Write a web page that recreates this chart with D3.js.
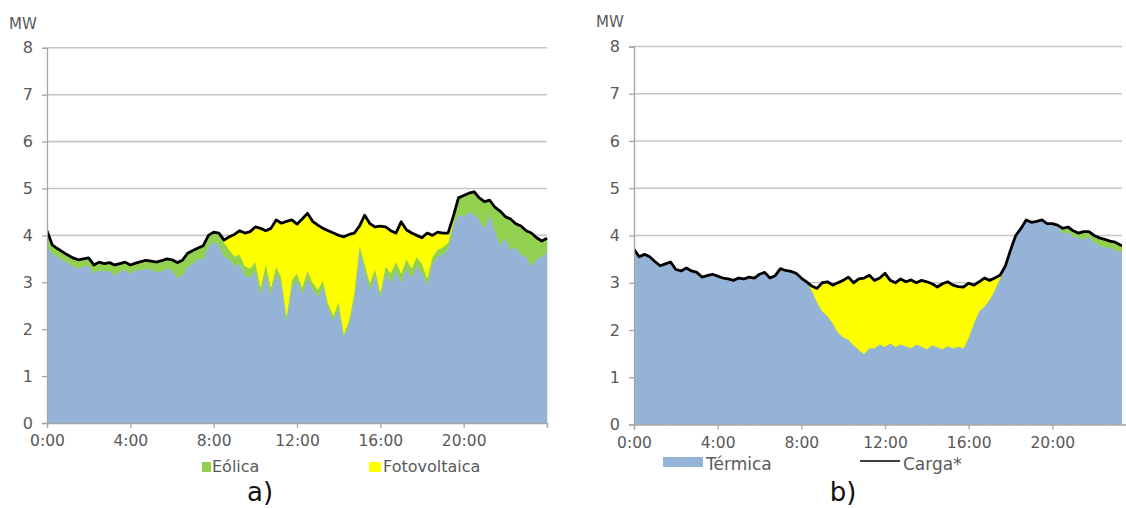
<!DOCTYPE html>
<html>
<head>
<meta charset="utf-8">
<script src="https://cdn.jsdelivr.net/npm/d3@7"></script>
<style>
  html, body { margin: 0; padding: 0; background: #ffffff; }
  svg { display: block; }
  text { font-family: "DejaVu Sans", Verdana, sans-serif; }
</style>
</head>
<body>
<svg id="chart" width="1126" height="509"></svg>
<script>
// ---------- DATA (15-minute resolution, 0:00 .. 24:00) ----------
const stepHours = 0.25;
const xTickHours = [0, 4, 8, 12, 16, 20, 24];
const xTickLabels = ["0:00", "4:00", "8:00", "12:00", "16:00", "20:00", ""];
const yTicks = [0, 1, 2, 3, 4, 5, 6, 7, 8];
const seriesNames = ["Térmica", "Eólica", "Fotovoltaica", "Carga*"];

// Panel a)
const termicaA = [3.78,3.62,3.55,3.47,3.42,3.34,3.30,3.34,3.36,3.20,3.26,3.24,3.24,3.15,3.24,3.26,3.19,3.26,3.26,3.30,3.27,3.22,3.24,3.30,3.25,3.10,3.15,3.34,3.40,3.50,3.50,3.78,3.86,3.80,
  3.55,3.50,3.35,3.40,3.15,3.10,3.25,2.75,3.20,2.75,3.20,2.95,2.20,2.90,3.05,2.75,3.10,2.85,2.70,2.90,2.45,2.20,2.45,1.85,2.10,2.65,
  3.70,3.25,2.85,3.15,2.70,3.20,3.00,3.25,3.00,3.30,3.10,3.35,3.20,2.95,3.40,3.55,3.60,3.70,4.20,4.45,4.40,4.50,4.45,4.35,4.15,4.45,
  4.10,3.80,3.95,3.70,3.75,3.60,3.55,3.35,3.50,3.55,3.65];
const eolicaA = [0.32,0.18,0.17,0.18,0.16,0.18,0.18,0.16,0.16,0.17,0.17,0.16,0.18,0.22,0.16,0.17,0.18,0.15,0.18,0.17,0.18,0.21,0.22,0.20,0.23,0.32,0.32,0.28,0.28,0.23,0.28,0.22,0.21,0.25,
  0.30,0.20,0.20,0.20,0.20,0.20,0.20,0.15,0.20,0.15,0.15,0.15,0.10,0.15,0.15,0.15,0.15,0.15,0.15,0.15,0.10,0.10,0.15,0.05,0.10,0.15,
  0.10,0.15,0.15,0.15,0.10,0.15,0.20,0.20,0.20,0.20,0.20,0.20,0.20,0.15,0.15,0.15,0.15,0.15,0.10,0.35,0.45,0.40,0.48,0.45,0.57,0.30,
  0.50,0.72,0.45,0.65,0.50,0.60,0.55,0.70,0.45,0.33,0.29];
const fotovoltaicaA = [0,0,0,0,0,0,0,0,0,0,0,0,0,0,0,0,0,0,0,0,0,0,0,0,0,0,0,0,0,0,0,0,0,0,
  0.05,0.27,0.47,0.50,0.70,0.78,0.73,1.25,0.70,1.25,0.98,1.16,2.00,1.28,1.04,1.45,1.22,1.30,1.37,1.10,1.55,1.75,1.40,2.07,1.82,1.25,
  0.40,1.03,1.25,0.88,1.40,0.83,0.90,0.60,1.09,0.62,0.75,0.45,0.55,0.95,0.45,0.37,0.30,0.20,0.10,0,0,0,0,0,0,0,
  0,0,0,0,0,0,0,0,0,0,0];
const cargaA = [4.10,3.80,3.72,3.65,3.58,3.52,3.48,3.50,3.52,3.37,3.43,3.40,3.42,3.37,3.40,3.43,3.37,3.41,3.44,3.47,3.45,3.43,3.46,3.50,3.48,3.42,3.47,3.62,3.68,3.73,3.78,4.00,4.07,4.05,
  3.90,3.97,4.02,4.10,4.05,4.08,4.18,4.15,4.10,4.15,4.33,4.26,4.30,4.33,4.24,4.35,4.47,4.30,4.22,4.15,4.10,4.05,4.00,3.97,4.02,4.05,
  4.20,4.43,4.25,4.18,4.20,4.18,4.10,4.05,4.29,4.12,4.05,4.00,3.95,4.05,4.00,4.07,4.05,4.05,4.40,4.80,4.85,4.90,4.93,4.80,4.72,4.75,
  4.60,4.52,4.40,4.35,4.25,4.20,4.10,4.05,3.95,3.88,3.94];

// Panel b)
const termicaB = [3.71,3.55,3.60,3.55,3.45,3.36,3.40,3.44,3.28,3.25,3.31,3.25,3.22,3.12,3.15,3.18,3.14,3.10,3.08,3.05,3.10,3.08,3.12,3.10,3.18,3.22,3.10,3.15,3.30,3.26,3.24,3.20,3.10,3.02,
  2.85,2.60,2.40,2.30,2.15,1.95,1.85,1.80,1.68,1.58,1.50,1.62,1.62,1.70,1.65,1.72,1.65,1.70,1.66,1.62,1.70,1.65,1.60,1.68,1.64,1.60,
  1.66,1.62,1.65,1.62,1.85,2.15,2.40,2.50,2.65,2.85,3.10,3.35,3.69,4.00,4.15,4.33,4.28,4.30,4.33,4.25,4.25,4.22,4.05,4.08,3.98,3.95,
  3.92,3.98,3.85,3.80,3.75,3.75,3.70,3.65,3.62,3.60,3.60];
const eolicaB = [0,0,0,0,0,0,0,0,0,0,0,0,0,0,0,0,0,0,0,0,0,0,0,0,0,0,0,0,0,0,0,0,0,0,
  0,0,0,0,0,0,0,0,0,0,0,0,0,0,0,0,0,0,0,0,0,0,0,0,0,0,
  0,0,0,0,0,0,0,0,0,0,0,0,0,0,0,0,0,0,0,0,0,0,0.10,0.10,0.12,0.10,
  0.16,0.10,0.15,0.15,0.17,0.13,0.16,0.15,0.14,0.12,0.10];
const fotovoltaicaB = [0,0,0,0,0,0,0,0,0,0,0,0,0,0,0,0,0,0,0,0,0,0,0,0,0,0,0,0,0,0,0,0,0,0,
  0.08,0.28,0.60,0.72,0.80,1.05,1.20,1.32,1.32,1.50,1.60,1.54,1.43,1.40,1.55,1.33,1.35,1.38,1.36,1.44,1.30,1.40,1.42,1.30,1.27,1.38,
  1.36,1.33,1.27,1.29,1.14,0.80,0.62,0.60,0.40,0.25,0.06,0,0,0,0,0,0,0,0,0,0,0,0,0,0,0,
  0,0,0,0,0,0,0,0,0,0,0];
const cargaB = [3.71,3.55,3.60,3.55,3.45,3.36,3.40,3.44,3.28,3.25,3.31,3.25,3.22,3.12,3.15,3.18,3.14,3.10,3.08,3.05,3.10,3.08,3.12,3.10,3.18,3.22,3.10,3.15,3.30,3.26,3.24,3.20,3.10,3.02,
  2.93,2.88,3.00,3.02,2.95,3.00,3.05,3.12,3.00,3.08,3.10,3.16,3.05,3.10,3.20,3.05,3.00,3.08,3.02,3.06,3.00,3.05,3.02,2.98,2.91,2.98,
  3.02,2.95,2.92,2.91,2.99,2.95,3.02,3.10,3.05,3.10,3.16,3.35,3.69,4.00,4.15,4.33,4.28,4.30,4.33,4.25,4.25,4.22,4.15,4.18,4.10,4.05,
  4.08,4.08,4.00,3.95,3.92,3.88,3.86,3.80,3.76,3.72,3.70];

// ---------- STYLE ----------
const colors = { termica: "#95b3d7", eolica: "#92d050", fotovoltaica: "#ffff00", carga: "#000000" };
const gridColor = "#c6c6c6";
const labelColor = "#595959";

const svg = d3.select("#chart");

function drawPanel(cfg) {
  const g = svg.append("g");
  const x = d3.scaleLinear().domain([0, 24]).range([cfg.x0, cfg.x1]);
  const y = d3.scaleLinear().domain([0, 8]).range([cfg.y0, cfg.y8]);

  const clipId = "clip" + cfg.id;
  svg.append("clipPath").attr("id", clipId).append("rect")
    .attr("x", cfg.x0).attr("y", 0).attr("width", cfg.clipRight - cfg.x0).attr("height", 509);

  // gridlines
  g.append("g").selectAll("line").data(yTicks.filter(d => d > 0)).join("line")
    .attr("x1", cfg.x0).attr("x2", cfg.x1).attr("y1", d => y(d)).attr("y2", d => y(d))
    .attr("stroke", gridColor).attr("stroke-width", 1.6)
    .attr("clip-path", `url(#${clipId})`);

  // data table
  const rows = cfg.termica.map((t, i) => ({
    h: i * stepHours, termica: t, eolica: cfg.eolica[i], fotovoltaica: cfg.fotovoltaica[i], carga: cfg.carga[i]
  }));
  const stack = d3.stack().keys(["termica", "eolica", "fotovoltaica"])(rows);
  const area = d3.area().x(d => x(d.data.h)).y0(d => y(d[0])).y1(d => y(d[1]));
  const areas = g.append("g").attr("clip-path", `url(#${clipId})`);
  stack.forEach(s => {
    areas.append("path").datum(s).attr("d", area).attr("fill", colors[s.key])
      .attr("stroke", colors[s.key]).attr("stroke-width", 0.6);
  });
  // load line
  const line = d3.line().x(d => x(d.h)).y(d => y(d.carga));
  areas.append("path").datum(rows).attr("d", line).attr("fill", "none")
    .attr("stroke", colors.carga).attr("stroke-width", 2.8).attr("stroke-linejoin", "round");

  // y axis
  const yAxis = d3.axisLeft(y).tickValues(yTicks).tickSize(5).tickPadding(9).tickFormat(d3.format("d"));
  const ya = g.append("g").attr("transform", `translate(${cfg.x0},0)`).call(yAxis);
  ya.select(".domain").attr("stroke", "#a6a6a6").attr("stroke-width", 1.3);
  ya.selectAll(".tick line").attr("stroke", "#a6a6a6").attr("stroke-width", 1.3);
  ya.selectAll(".tick text").attr("fill", labelColor).attr("font-size", 16)
    .attr("font-family", "DejaVu Sans, Verdana, sans-serif");

  // x axis
  const xAxis = d3.axisBottom(x).tickValues(xTickHours).tickSize(5).tickPadding(7)
    .tickFormat((d, i) => xTickLabels[i]);
  const xa = g.append("g").attr("transform", `translate(0,${cfg.y0})`).call(xAxis);
  xa.select(".domain").attr("stroke", "#a6a6a6").attr("stroke-width", 1.3);
  xa.selectAll(".tick line").attr("stroke", "#a6a6a6").attr("stroke-width", 1.3);
  xa.selectAll(".tick text").attr("fill", labelColor).attr("font-size", 15.5)
    .attr("font-family", "DejaVu Sans, Verdana, sans-serif");

  // unit label
  g.append("text").attr("x", cfg.mwX).attr("y", cfg.mwY).text("MW")
    .attr("fill", labelColor).attr("font-size", 15);

  // panel letter
  g.append("text").attr("x", cfg.letterX).attr("y", 501).attr("text-anchor", "middle")
    .attr("font-family", "Open Sans, sans-serif").attr("font-size", 26).attr("fill", "#111")
    .text(cfg.letter);
}

drawPanel({ id: "a", x0: 47, x1: 547, clipRight: 548, y0: 423, y8: 47.8,
  termica: termicaA, eolica: eolicaA, fotovoltaica: fotovoltaicaA, carga: cargaA,
  mwX: 9, mwY: 29, letter: "a)", letterX: 260 });
drawPanel({ id: "b", x0: 634, x1: 1136, clipRight: 1122, y0: 424.5, y8: 46.5,
  termica: termicaB, eolica: eolicaB, fotovoltaica: fotovoltaicaB, carga: cargaB,
  mwX: 596, mwY: 27, letter: "b)", letterX: 843 });

// legends
const leg = svg.append("g").attr("font-size", 16).attr("fill", labelColor);
leg.append("rect").attr("x", 202).attr("y", 462).attr("width", 9).attr("height", 10).attr("fill", colors.eolica);
leg.append("text").attr("x", 212).attr("y", 472).text(seriesNames[1]).attr("fill", labelColor);
leg.append("rect").attr("x", 369).attr("y", 462).attr("width", 12).attr("height", 10).attr("fill", colors.fotovoltaica);
leg.append("text").attr("x", 383).attr("y", 472).text(seriesNames[2]).attr("fill", labelColor);
leg.append("rect").attr("x", 663).attr("y", 457).attr("width", 40).attr("height", 10).attr("fill", colors.termica);
leg.append("text").attr("x", 706).attr("y", 470).text(seriesNames[0]).attr("fill", labelColor).attr("font-size", 17);
leg.append("line").attr("x1", 860).attr("x2", 900).attr("y1", 461).attr("y2", 461).attr("stroke", "#000").attr("stroke-width", 1.5);
leg.append("text").attr("x", 903).attr("y", 470).text(seriesNames[3]).attr("fill", labelColor).attr("font-size", 17);
</script>
</body>
</html>
